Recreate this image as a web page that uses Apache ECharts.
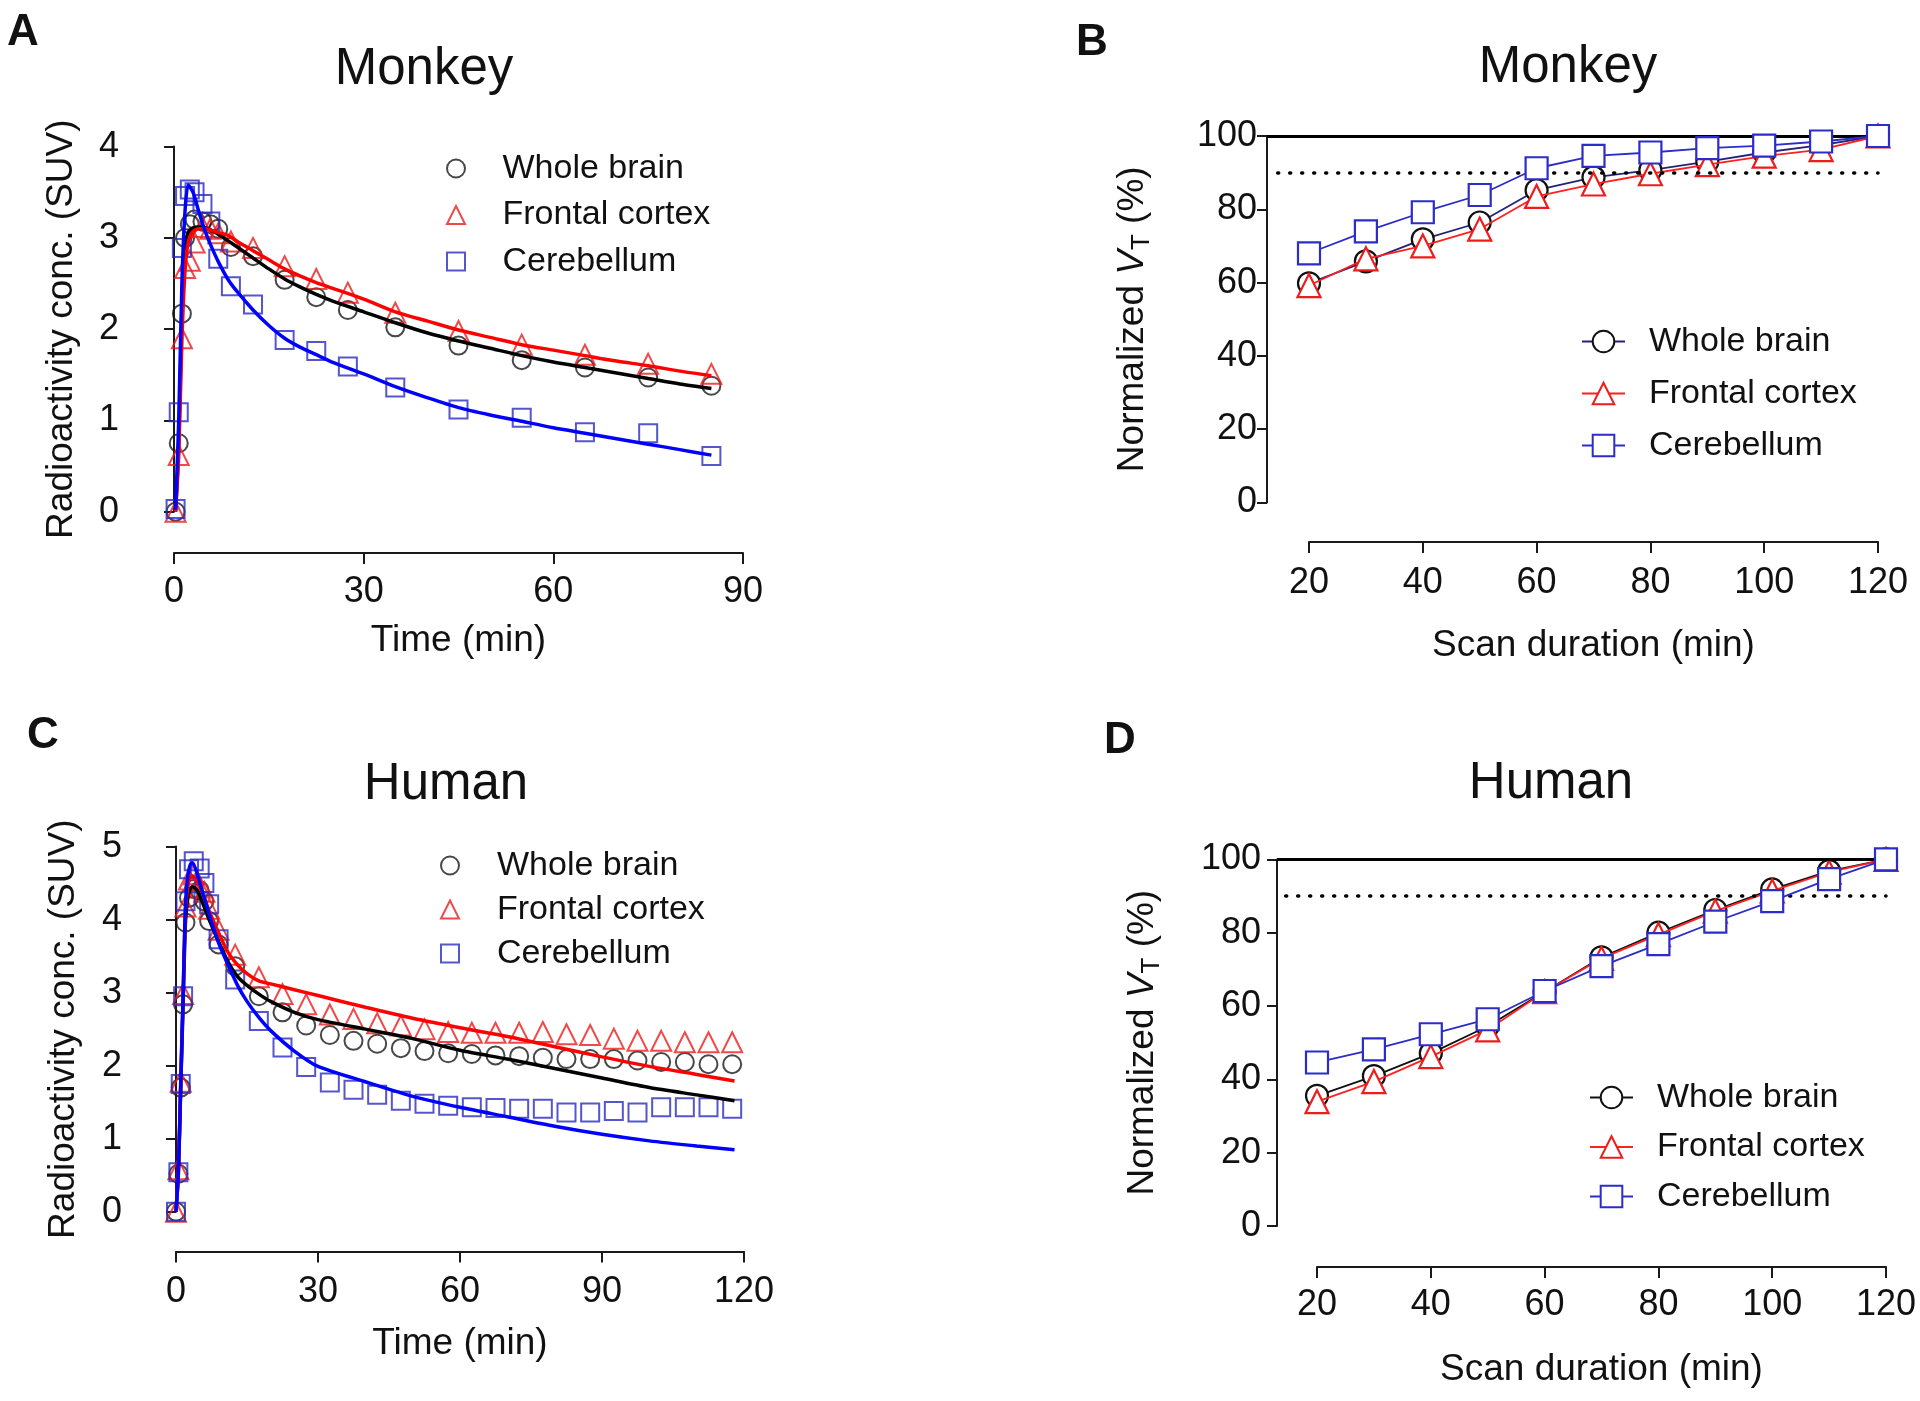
<!DOCTYPE html>
<html>
<head>
<meta charset="utf-8">
<script src="https://cdn.jsdelivr.net/npm/echarts@6/dist/echarts.min.js"></script>
<style>
html,body{margin:0;padding:0;background:#fff;}
#chart{width:1920px;height:1401px;}
</style>
</head>
<body>
<div id="chart"></div>
<script>
// ---------- DATA ----------
// Panel A: Monkey time-activity curves (markers)
var monkeyTime = [0.25, 0.75, 1.25, 1.75, 2.5, 3.25, 4.5, 5.75, 7, 9, 12.5, 17.5, 22.5, 27.5, 35, 45, 55, 65, 75, 85];
var monkeyWB = [0.00, 0.75, 2.17, 3.00, 3.15, 3.20, 3.18, 3.15, 3.10, 2.90, 2.80, 2.54, 2.35, 2.21, 2.02, 1.82, 1.66, 1.58, 1.47, 1.38];
var monkeyFC = [0.00, 0.62, 1.90, 2.67, 2.75, 2.95, 3.12, 3.10, 3.05, 2.96, 2.89, 2.69, 2.55, 2.40, 2.18, 1.98, 1.83, 1.72, 1.62, 1.51];
var monkeyCB = [0.03, 1.09, 2.89, 3.46, 3.53, 3.50, 3.37, 3.18, 2.77, 2.47, 2.27, 1.88, 1.76, 1.59, 1.36, 1.12, 1.03, 0.87, 0.86, 0.61];
// Panel A: fitted curves
var monkeyFitTime = [0.25, 0.75, 1.25, 1.75, 2.25, 3, 4, 5, 6, 7, 8.5, 10, 12.5, 15, 17.5, 20, 22.5, 25, 30, 35, 40, 45, 50, 55, 60, 65, 70, 75, 80, 85];
var monkeyFitWB = [0.00, 0.75, 2.15, 2.92, 3.06, 3.11, 3.12, 3.11, 3.08, 3.04, 2.97, 2.90, 2.78, 2.66, 2.55, 2.46, 2.38, 2.31, 2.19, 2.07, 1.96, 1.87, 1.79, 1.71, 1.64, 1.58, 1.52, 1.46, 1.40, 1.35];
var monkeyFitFC = [0.00, 0.62, 1.88, 2.65, 2.95, 3.07, 3.10, 3.10, 3.08, 3.06, 3.03, 2.96, 2.86, 2.76, 2.66, 2.58, 2.51, 2.45, 2.33, 2.19, 2.09, 1.99, 1.91, 1.83, 1.77, 1.71, 1.65, 1.60, 1.54, 1.49];
var monkeyFitCB = [0.02, 1.00, 2.50, 3.30, 3.58, 3.50, 3.27, 3.06, 2.89, 2.74, 2.55, 2.41, 2.21, 2.04, 1.90, 1.80, 1.72, 1.64, 1.51, 1.37, 1.25, 1.14, 1.06, 0.99, 0.92, 0.86, 0.80, 0.74, 0.68, 0.62];

// Panels B & D: scan duration
var scanDuration = [20, 30, 40, 50, 60, 70, 80, 90, 100, 110, 120];
var monkeyVtWB = [59.8, 65.8, 71.8, 76.4, 85.2, 88.7, 90.7, 93.0, 95.5, 97.5, 100];
var monkeyVtFC = [59.2, 66.5, 70.0, 74.6, 83.5, 86.9, 89.7, 92.2, 94.5, 96.3, 100];
var monkeyVtCB = [68.0, 74.0, 79.2, 83.9, 91.2, 94.6, 95.5, 96.7, 97.4, 98.5, 100];
var humanVtWB = [35.5, 40.9, 47.1, 54.5, 63.9, 73.3, 80.0, 86.2, 91.8, 96.8, 100];
var humanVtFC = [33.9, 39.4, 46.2, 53.5, 63.9, 73.0, 79.5, 85.9, 91.4, 96.5, 100];
var humanVtCB = [44.6, 48.2, 52.3, 56.4, 64.1, 70.9, 76.9, 83.0, 88.6, 94.6, 100];
var refFull = 100;      // solid reference level
var refDotted = 90;     // dotted reference level
var refDottedStart = 14.5;
var refEnd = 120;

// Panel C: Human time-activity curves (markers)
var humanTime = [0, 0.5, 1.0, 1.5, 2.0, 2.75, 3.75, 5.0, 6.0, 7.0, 9.0, 12.5, 17.5, 22.5, 27.5, 32.5, 37.5, 42.5, 47.5, 52.5, 57.5, 62.5, 67.5, 72.5, 77.5, 82.5, 87.5, 92.5, 97.5, 102.5, 107.5, 112.5, 117.5];
var humanWB = [0.00, 0.52, 1.70, 2.84, 3.96, 4.30, 4.42, 4.40, 4.25, 3.98, 3.66, 3.36, 2.95, 2.73, 2.55, 2.42, 2.34, 2.30, 2.24, 2.20, 2.17, 2.16, 2.14, 2.13, 2.11, 2.09, 2.09, 2.09, 2.07, 2.05, 2.05, 2.02, 2.02];
var humanFC = [0.00, 0.58, 1.78, 2.98, 4.18, 4.55, 4.62, 4.44, 4.38, 4.15, 3.86, 3.52, 3.21, 2.98, 2.84, 2.70, 2.64, 2.58, 2.55, 2.50, 2.46, 2.45, 2.45, 2.45, 2.46, 2.43, 2.42, 2.37, 2.34, 2.34, 2.32, 2.32, 2.32];
var humanCB = [0.00, 0.54, 1.75, 2.95, 4.25, 4.69, 4.80, 4.70, 4.50, 4.21, 3.73, 3.18, 2.61, 2.25, 1.98, 1.77, 1.67, 1.60, 1.52, 1.48, 1.45, 1.43, 1.42, 1.41, 1.41, 1.36, 1.36, 1.38, 1.36, 1.43, 1.43, 1.43, 1.41];
// Panel C: fitted curves
var humanFitTime = [0, 0.5, 1, 1.5, 2, 2.5, 3, 3.5, 4.5, 5.5, 7, 9, 11, 13, 15, 17.5, 20, 25, 30, 40, 50, 60, 70, 80, 90, 100, 110, 118];
var humanFitWB = [0.00, 0.52, 1.70, 2.84, 3.96, 4.30, 4.42, 4.45, 4.40, 4.25, 4.00, 3.70, 3.42, 3.22, 3.10, 2.98, 2.88, 2.73, 2.63, 2.50, 2.37, 2.21, 2.09, 1.96, 1.83, 1.70, 1.60, 1.52];
var humanFitFC = [0.00, 0.58, 1.78, 2.98, 4.12, 4.45, 4.58, 4.60, 4.52, 4.38, 4.12, 3.82, 3.55, 3.38, 3.26, 3.16, 3.12, 3.04, 2.96, 2.80, 2.65, 2.52, 2.40, 2.26, 2.12, 1.99, 1.88, 1.79];
var humanFitCB = [0.00, 0.54, 1.75, 2.95, 4.20, 4.60, 4.75, 4.78, 4.62, 4.40, 4.08, 3.68, 3.38, 3.10, 2.88, 2.66, 2.48, 2.20, 1.99, 1.78, 1.58, 1.43, 1.30, 1.17, 1.06, 0.97, 0.90, 0.85];

var regionNames = ['Whole brain', 'Frontal cortex', 'Cerebellum'];
var panelLetters = ['A', 'B', 'C', 'D'];
var panelTitles = ['Monkey', 'Monkey', 'Human', 'Human'];
var tacXName = 'Time (min)';
var tacYName = 'Radioactivity conc. (SUV)';
var vtXName = 'Scan duration (min)';
var vtYName = '{n|Normalized }{v|V}{s|T}{n| (%)}';

// ---------- STYLE / LAYOUT ----------
var FONT = '"Liberation Sans", Arial, Helvetica, sans-serif';
var C_BLACK = '#1a1a1a', C_RED = '#ee1c1c', C_BLUE = '#2c2cbf';
var LINE_BLACK = '#000000', LINE_RED = '#ff0000', LINE_BLUE = '#0000ff';

function pairs(xs, ys) { return xs.map(function (x, i) { return [x, ys[i]]; }); }

var grids = [
  {left: 132, top: 146.6, width: 611, height: 365.1},
  {left: 174, top: 450, width: 569, height: 103},
  {left: 1267, top: 136, width: 611, height: 366.5},
  {left: 1309, top: 450, width: 569, height: 92},
  {left: 135, top: 846.6, width: 609, height: 365.1},
  {left: 176, top: 1200, width: 568, height: 51.6},
  {left: 1277, top: 859.4, width: 609, height: 366.6},
  {left: 1317, top: 1200, width: 569, height: 67}
];

var tickLabel = {fontSize: 36, color: '#111', fontFamily: FONT};
var axisLineStyle = {show: true, lineStyle: {color: '#1a1a1a', width: 2}};
var nameStyle = {fontSize: 37, color: '#111', fontFamily: FONT};
var vtNameStyle = {
  fontSize: 37, color: '#111', fontFamily: FONT,
  rich: {
    n: {fontSize: 37, color: '#111', fontFamily: FONT, lineHeight: 44},
    v: {fontSize: 37, color: '#111', fontFamily: FONT, fontStyle: 'italic', lineHeight: 44},
    s: {fontSize: 26, color: '#111', fontFamily: FONT, lineHeight: 26, verticalAlign: 'bottom'}
  }
};

function hiddenX(min, max) { return {type: 'value', min: min, max: max, show: false}; }
function visX(gi, min, max, interval, name, labelMargin, nameGap) {
  return {
    type: 'value', gridIndex: gi, min: min, max: max, interval: interval,
    axisLine: axisLineStyle,
    axisTick: {show: true, length: 11, lineStyle: {color: '#1a1a1a', width: 2}},
    axisLabel: Object.assign({margin: labelMargin}, tickLabel),
    splitLine: {show: false},
    name: name, nameLocation: 'middle', nameGap: nameGap, nameTextStyle: nameStyle
  };
}
function visY(gi, max, interval, name, labelMargin, nameGap, nStyle) {
  return {
    type: 'value', gridIndex: gi, min: 0, max: max, interval: interval,
    axisLine: axisLineStyle,
    axisTick: {show: true, length: 10, lineStyle: {color: '#1a1a1a', width: 2}},
    axisLabel: Object.assign({margin: labelMargin}, tickLabel),
    splitLine: {show: false},
    name: name, nameLocation: 'middle', nameGap: nameGap, nameTextStyle: nStyle
  };
}
function hiddenY(gi) { return {type: 'value', gridIndex: gi, min: 0, max: 1, show: false}; }

var xAxes = [
  Object.assign({gridIndex: 0}, hiddenX(-6.643, 90)),
  visX(1, 0, 90, 30, tacXName, 21, 69),
  Object.assign({gridIndex: 2}, hiddenX(12.619, 120)),
  visX(3, 20, 120, 20, vtXName, 23, 85.5),
  Object.assign({gridIndex: 4}, hiddenX(-8.662, 120)),
  visX(5, 0, 120, 30, tacXName, 22, 74),
  Object.assign({gridIndex: 6}, hiddenX(12.97, 120)),
  visX(7, 20, 120, 20, vtXName, 20, 84.5)
];
var yAxes = [
  visY(0, 4, 1, tacYName, 13, 51.5, nameStyle),
  hiddenY(1),
  visY(2, 100, 20, vtYName, 10, 112, vtNameStyle),
  hiddenY(3),
  visY(4, 5, 1, tacYName, 13, 52.5, nameStyle),
  hiddenY(5),
  visY(6, 100, 20, vtYName, 16, 112, vtNameStyle),
  hiddenY(7)
];

var symbols = ['circle', 'triangle', 'rect'];
var symSizes = [18, 20, 18];
var markColors = [C_BLACK, C_RED, C_BLUE];
var fitColors = [LINE_BLACK, LINE_RED, LINE_BLUE];

function markerSeries(prefix, axis, xs, ysList) {
  return ysList.map(function (ys, k) {
    return {
      type: 'scatter', name: prefix + regionNames[k], xAxisIndex: axis, yAxisIndex: axis,
      data: pairs(xs, ys), symbol: symbols[k], symbolSize: symSizes[k],
      itemStyle: {color: 'rgba(255,255,255,0)', borderColor: markColors[k], borderWidth: 2},
      emphasis: {disabled: true}, z: 2
    };
  });
}
function fitSeries(axis, xs, ysList) {
  return ysList.map(function (ys, k) {
    return {
      type: 'line', name: 'fit' + axis + k, xAxisIndex: axis, yAxisIndex: axis,
      data: pairs(xs, ys), showSymbol: false, symbol: 'none', smooth: 0.25,
      lineStyle: {color: fitColors[k], width: 3.5}, emphasis: {disabled: true}, z: 3
    };
  });
}
var vtLineColorsB = ['#23237a', '#ff2020', '#2c2cc8'];
var vtLineColorsD = ['#111111', '#ff2020', '#2c2cc8'];
var vtBorder = ['#111111', '#ee1c1c', '#2c2cc8'];
var vtSizes = [22, 23, 22];
function vtSeries(prefix, axis, ysList, lineColors) {
  return ysList.map(function (ys, k) {
    var s = {
      type: 'line', name: prefix + regionNames[k], xAxisIndex: axis, yAxisIndex: axis,
      data: pairs(scanDuration, ys), symbol: symbols[k], symbolSize: vtSizes[k], showSymbol: true,
      itemStyle: {color: '#ffffff', borderColor: vtBorder[k], borderWidth: 2.2},
      lineStyle: {color: lineColors[k], width: 1.8},
      emphasis: {disabled: true}, z: 3 + k
    };
    if (k === 0) {
      s.markLine = {
        silent: true, symbol: ['none', 'none'], label: {show: false}, animation: false,
        emphasis: {disabled: true},
        lineStyle: {type: [1, 11], width: 3.5, color: '#000', cap: 'round'},
        data: [
          {yAxis: refFull, lineStyle: {type: 'solid', width: 3, color: '#000', cap: 'butt'}},
          [{coord: [refDottedStart, refDotted]}, {coord: [refEnd, refDotted]}]
        ]
      };
    }
    return s;
  });
}

var series = [].concat(
  markerSeries('A:', 0, monkeyTime, [monkeyWB, monkeyFC, monkeyCB]),
  fitSeries(0, monkeyFitTime, [monkeyFitWB, monkeyFitFC, monkeyFitCB]),
  vtSeries('B:', 2, [monkeyVtWB, monkeyVtFC, monkeyVtCB], vtLineColorsB),
  markerSeries('C:', 4, humanTime, [humanWB, humanFC, humanCB]),
  fitSeries(4, humanFitTime, [humanFitWB, humanFitFC, humanFitCB]),
  vtSeries('D:', 6, [humanVtWB, humanVtFC, humanVtCB], vtLineColorsD)
);

function legend(prefix, left, top, iw, ih, gap, pad) {
  return {
    orient: 'vertical', left: left, top: top, itemWidth: iw, itemHeight: ih, itemGap: gap,
    selectedMode: false, padding: 0,
    data: regionNames.map(function (n) { return prefix + n; }),
    formatter: function (n) { return n.slice(2); },
    textStyle: {fontSize: 34, color: '#111', fontFamily: FONT, padding: [0, 0, 0, pad]}
  };
}

var titlePos = [[424, 70], [1568, 68], [446, 785], [1551, 784]];
var letterPos = [[23, 33], [1092, 43], [43, 736], [1120, 741]];
var graphic = [];
panelTitles.forEach(function (t, i) {
  graphic.push({type: 'text', x: titlePos[i][0], y: titlePos[i][1], silent: true,
    style: {text: t, fontSize: 51, fontFamily: FONT, fill: '#111', align: 'center', verticalAlign: 'middle'}});
  graphic.push({type: 'text', x: letterPos[i][0], y: letterPos[i][1], silent: true,
    style: {text: panelLetters[i], fontSize: 44, fontWeight: 'bold', fontFamily: FONT, fill: '#111', align: 'center', verticalAlign: 'middle'}});
});

var option = {
  animation: false,
  backgroundColor: '#ffffff',
  grid: grids,
  xAxis: xAxes,
  yAxis: yAxes,
  legend: [
    legend('A:', 446, 151.5, 18, 18, 12.5, 32.5),
    legend('B:', 1581, 324.5, 43, 27, 18, 19),
    legend('C:', 440, 848.5, 18, 18, 10, 33),
    legend('D:', 1589, 1080.5, 43, 27, 15.5, 19)
  ],
  graphic: graphic,
  series: series
};

var chart = echarts.init(document.getElementById('chart'), null, {renderer: 'canvas'});
chart.setOption(option);
</script>
</body>
</html>
